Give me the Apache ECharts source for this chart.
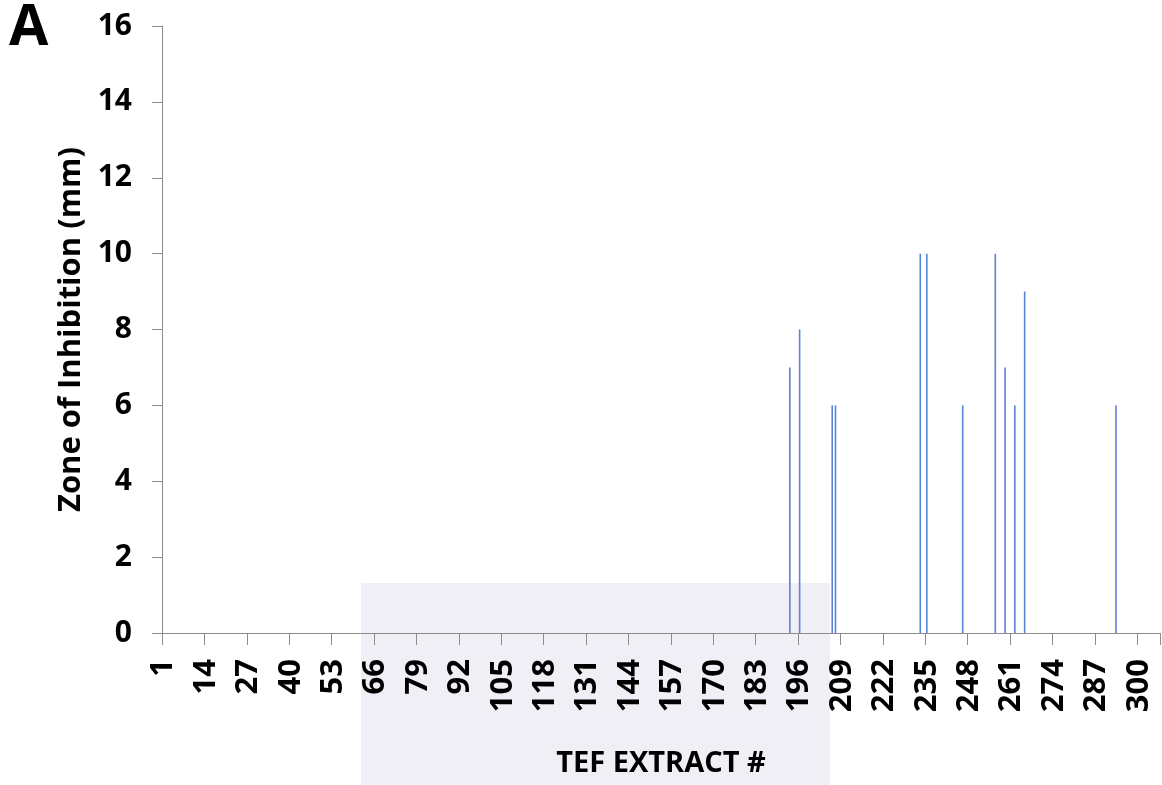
<!DOCTYPE html>
<html>
<head>
<meta charset="utf-8">
<title>Zone of Inhibition</title>
<script src="https://cdn.jsdelivr.net/npm/echarts@6/dist/echarts.min.js"></script>
<style>
    html, body { margin: 0; padding: 0; background: #fff; }
    #chart { width: 1162px; height: 785px; }
</style>
</head>
<body>
<div id="chart"></div>
<script>
    // extract numbers 1..306 on the category axis
    var extractCount = 306;
    var extracts = [];
    for (var i = 1; i <= extractCount; i++) {
        extracts.push(String(i));
    }

    // extracts that showed a zone, and its size (mm)
    var hitExtracts = [193, 196, 206, 207, 233, 235, 246, 256, 259, 262, 265, 293];
    var hitZones = [7, 8, 6, 6, 10, 10, 6, 10, 7, 6, 9, 6];

    var yTicks = [0, 2, 4, 6, 8, 10, 12, 14, 16];

    var zones = extracts.map(function(e) {
        var k = hitExtracts.indexOf(Number(e));
        return k >= 0 ? hitZones[k] : 0;
    });

    var font = 'Open Sans';
    var axisGray = '#8c8c8c';

    var myChart = echarts.init(document.getElementById('chart'));

    var option = {
        backgroundColor: '#fff',
        animation: false,
        graphic: {
            elements: [{
                type: 'rect',
                z: -10,
                silent: true,
                shape: { x: 361, y: 583, width: 469, height: 202 },
                style: { fill: '#efeff5' }
            }, {
                type: 'text',
                x: 9,
                y: 29,
                style: {
                    text: 'A',
                    font: 'bold 57px "Open Sans"',
                    fill: '#000',
                    verticalAlign: 'middle',
                    align: 'left'
                }
            }]
        },
        grid: {
            left: 162,
            right: 2,
            top: 26,
            bottom: 152
        },
        xAxis: {
            type: 'category',
            data: extracts,
            boundaryGap: true,
            name: 'TEF EXTRACT #',
            nameLocation: 'middle',
            nameGap: 116,
            nameTextStyle: { fontFamily: font, fontWeight: 'bold', fontSize: 29, color: '#000' },
            axisLine: { lineStyle: { color: axisGray, width: 1 } },
            axisTick: { show: true, interval: 12, length: 12, lineStyle: { color: axisGray } },
            axisLabel: {
                interval: 12,
                rotate: 90,
                margin: 26,
                fontFamily: font,
                fontWeight: 'bold',
                fontSize: 31,
                color: '#000'
            },
            splitLine: { show: false }
        },
        yAxis: {
            type: 'value',
            min: yTicks[0],
            max: yTicks[yTicks.length - 1],
            interval: yTicks[1] - yTicks[0],
            name: 'Zone of Inhibition (mm)',
            nameLocation: 'middle',
            nameRotate: 90,
            nameGap: 71,
            nameTextStyle: { fontFamily: font, fontWeight: 'bold', fontSize: 31, color: '#000' },
            axisLine: { show: true, lineStyle: { color: axisGray, width: 1 } },
            axisTick: { show: true, length: 10, lineStyle: { color: axisGray } },
            axisLabel: {
                margin: 30,
                fontFamily: font,
                fontWeight: 'bold',
                fontSize: 30,
                color: '#000'
            },
            splitLine: { show: false }
        },
        series: [{
            name: 'Zone of Inhibition',
            type: 'bar',
            data: zones,
            barWidth: 1.6,
            itemStyle: { color: '#5a84d6' }
        }]
    };

    myChart.setOption(option);
</script>
</body>
</html>
